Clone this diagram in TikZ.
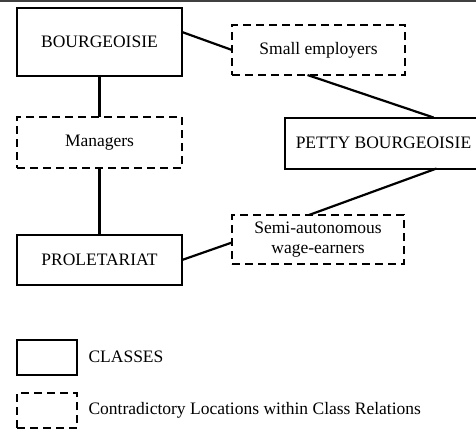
\documentclass[tikz,border=0pt]{standalone}
\usepackage{fontspec}
\setmainfont{Liberation Serif}
\begin{document}
\begin{tikzpicture}[x=1pt,y=-1pt,font=\fontsize{17.5pt}{20pt}\selectfont]
	\tikzstyle{cls}=[rectangle,draw,line width=2pt,inner sep=0pt,outer sep=0pt]
	\tikzstyle{loc}=[rectangle,draw,line width=2pt,dash pattern=on 8pt off 5pt,inner sep=0pt,outer sep=0pt]
	\tikzstyle{link}=[line width=2.2pt]
	\useasboundingbox (0,0) rectangle (476,429);
	\draw[line width=1.5pt,black!75] (0,1) -- (476,1);

	\node[cls,minimum width=165pt,minimum height=68pt] (BG) at (99.5,42) {BOURGEOISIE};
	\node[loc,minimum width=173pt,minimum height=50pt] (SE) at (318.5,50) {Small employers};
	\node[loc,minimum width=165pt,minimum height=51pt] (MG) at (99.5,142.5) {Managers};
	\node[cls,minimum width=197pt,minimum height=51pt] (PB) at (383.5,143) {PETTY BOURGEOISIE};
	\node[loc,minimum width=172pt,minimum height=49pt,align=center] (SA) at (318,239.5) {Semi-autonomous\\wage-earners};
	\node[cls,minimum width=165pt,minimum height=50pt] (PR) at (99.5,260) {PROLETARIAT};

	\draw[link] ([yshift=10pt]BG.east) -- (SE.west);
	\draw[link] (BG.south) -- (MG.north);
	\draw[link] (MG.south) -- (PR.north);
	\draw[link] ([xshift=-11pt]SE.south) -- ([xshift=50pt]PB.north);
	\draw[link] ([xshift=53pt]PB.south) -- ([xshift=-9pt]SA.north);
	\draw[link] (PR.east) -- ([yshift=-3pt]SA.west);

	% legend
	\node[cls,minimum width=60pt,minimum height=35pt] (LC) at (47,357) {};
	\node[loc,minimum width=60pt,minimum height=35pt] (LD) at (47,410.5) {};
	\node[anchor=west] (TC) at (85,357) {CLASSES};
	\node[anchor=west] (TD) at (85,410.5) {Contradictory Locations within Class Relations};
\end{tikzpicture}
\end{document}
